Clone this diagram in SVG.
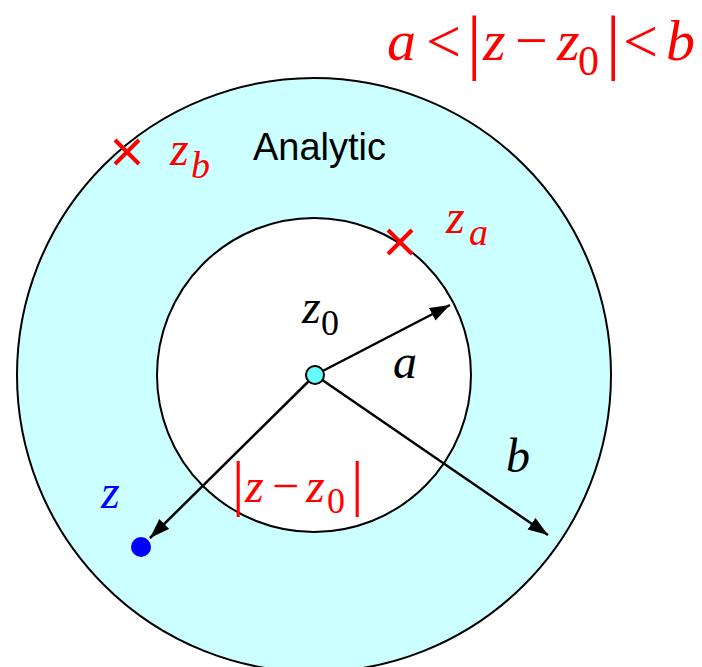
<svg xmlns="http://www.w3.org/2000/svg" width="702" height="667" viewBox="0 0 702 667">
<style>
.s{font-family:"Liberation Serif","Times New Roman",serif}
.i{font-style:italic}
.red{fill:#FF0000}
.conn{stroke:#000;stroke-width:2.5;fill:none;marker-end:url(#ah)}
.cross{stroke:#FF0000;stroke-width:4;stroke-linecap:butt}
</style>
<defs>
<marker id="ah" markerUnits="userSpaceOnUse" markerWidth="22" markerHeight="16" refX="20" refY="7" orient="auto">
<path d="M0,0 L20,7 L0,14 z" fill="#000"/>
</marker>
</defs>
<rect width="702" height="667" fill="#fff"/>
<g id="outer"><circle cx="314" cy="375" r="297" fill="#CCFFFF" stroke="#000" stroke-width="2"/></g>
<g id="inner"><circle cx="314" cy="375" r="157" fill="#fff" stroke="#000" stroke-width="2"/></g>
<g id="connectors">
<line class="conn" x1="315" y1="375" x2="450" y2="305"/>
<line class="conn" x1="315" y1="375" x2="548" y2="535"/>
<line class="conn" x1="315" y1="375" x2="150" y2="538"/>
</g>
<g id="z0"><circle cx="315" cy="375" r="9" fill="#66FFFF" stroke="#000" stroke-width="2"/>
<text class="s" font-size="48"><tspan class="i" x="302" y="323">z</tspan><tspan x="321" y="335" font-size="36">0</tspan></text></g>
<g id="zpoint"><circle cx="141" cy="547" r="10" fill="#0000FF"/>
<text class="s i" x="101" y="508" font-size="48" fill="#0000FF">z</text></g>
<g id="zb"><path class="cross" d="M115,140 L139,164 M139,140 L115,164"/>
<text class="s i red" font-size="48"><tspan x="170" y="165">z</tspan><tspan x="191" y="178" font-size="38">b</tspan></text></g>
<g id="za"><path class="cross" d="M388,230 L412,254 M412,230 L388,254"/>
<text class="s i red" font-size="48"><tspan x="446" y="233">z</tspan><tspan x="469" y="245" font-size="38">a</tspan></text></g>
<g id="analytic"><text x="253" y="160" font-size="38" font-family="Liberation Sans, Arial, sans-serif" fill="#000">Analytic</text></g>
<g id="labels">
<text class="s i" x="393" y="378" font-size="48">a</text>
<text class="s i" x="506" y="472" font-size="48">b</text>
</g>
<g id="dist">
<text class="s red" font-size="48"><tspan x="232" y="504" font-size="62">|</tspan><tspan class="i" x="245" y="502">z</tspan><tspan x="272" y="502">−</tspan><tspan class="i" x="306" y="502">z</tspan><tspan x="327" y="513" font-size="36">0</tspan><tspan x="351" y="504" font-size="62">|</tspan></text>
</g>
<g id="formula">
<text class="s red" font-size="58"><tspan class="i" x="387" y="60">a</tspan><tspan x="426" y="62" font-size="62">&lt;</tspan><tspan x="467" y="66" font-size="72">|</tspan><tspan class="i" x="483" y="60">z</tspan><tspan x="515" y="60">−</tspan><tspan class="i" x="557" y="60">z</tspan><tspan x="578" y="75" font-size="42">0</tspan><tspan x="606" y="66" font-size="72">|</tspan><tspan x="623" y="62" font-size="62">&lt;</tspan><tspan class="i" x="666" y="60">b</tspan></text>
</g>
</svg>
